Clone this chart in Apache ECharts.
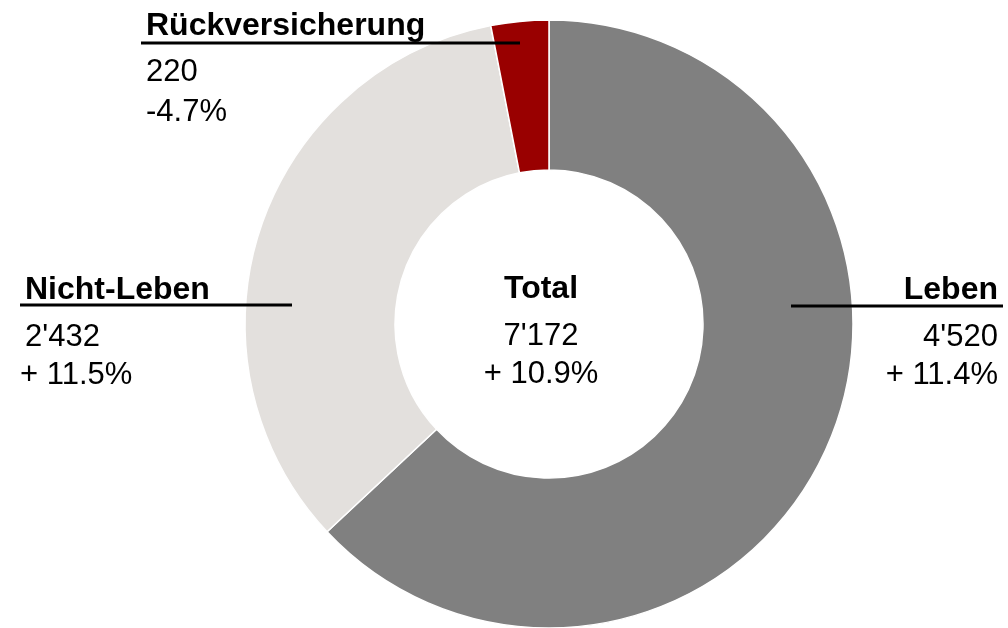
<!DOCTYPE html>
<html>
<head>
    <meta charset="utf-8">
    <title>Prämien nach Geschäftsbereich</title>
    <script src="https://cdn.jsdelivr.net/npm/echarts@6/dist/echarts.min.js"></script>
    <style>
        html, body { margin: 0; padding: 0; background: #fff; }
        #donut { width: 1008px; height: 628px; }
    </style>
</head>
<body>
<div id="donut"></div>
<script type="text/javascript">
    // Daten
    var categories = ['Leben', 'Nicht-Leben', 'Rückversicherung'];
    var values = [4520, 2432, 220];
    var valueLabels = ["4'520", "2'432", "220"];
    var changeLabels = ['+ 11.4%', '+ 11.5%', '-4.7%'];
    var totalLabels = ['Total', "7'172", '+ 10.9%'];
    var colors = ['#808080', '#E3E0DD', '#990000'];

    var font = "'Liberation Sans', Arial, sans-serif";
    var myChart = echarts.init(document.getElementById('donut'), null, {renderer: 'canvas'});

    function txt(t, x, y, align, bold) {
        return {
            type: 'text', x: x, y: y, z: 100, silent: true,
            style: {
                text: t, align: align, verticalAlign: 'middle',
                fontSize: bold ? 32 : 31, fontWeight: bold ? 'bold' : 'normal',
                fontFamily: font, fill: '#000'
            }
        };
    }
    function rule(x1, x2, y) {
        return {
            type: 'line', z: 100, silent: true,
            shape: {x1: x1, y1: y, x2: x2, y2: y},
            style: {stroke: '#000', lineWidth: 3}
        };
    }

    var graphics = [
        // Leben (rechts)
        txt(categories[0], 998, 290, 'right', true),
        rule(791, 1003, 306),
        txt(valueLabels[0], 998, 337, 'right', false),
        txt(changeLabels[0], 998, 375, 'right', false),
        // Nicht-Leben (links)
        txt(categories[1], 25, 290, 'left', true),
        rule(20, 292, 305),
        txt(valueLabels[1], 25, 337, 'left', false),
        txt(changeLabels[1], 20, 375, 'left', false),
        // Rückversicherung (oben)
        txt(categories[2], 146, 26, 'left', true),
        rule(141, 520, 43),
        txt(valueLabels[2], 146, 72, 'left', false),
        txt(changeLabels[2], 146, 112, 'left', false),
        // Mitte
        txt(totalLabels[0], 541, 289, 'center', true),
        txt(totalLabels[1], 541, 336, 'center', false),
        txt(totalLabels[2], 541, 374, 'center', false)
    ];

    var option = {
        animation: false,
        backgroundColor: '#fff',
        graphic: graphics,
        series: [{
            type: 'pie',
            center: [549, 324],
            radius: [154, 304],
            startAngle: 90,
            clockwise: true,
            label: {show: false},
            labelLine: {show: false},
            emphasis: {disabled: true},
            itemStyle: {borderColor: '#fff', borderWidth: 1.5},
            data: categories.map(function (c, i) {
                return {name: c, value: values[i], itemStyle: {color: colors[i]}};
            })
        }]
    };
    myChart.setOption(option);
</script>
</body>
</html>
